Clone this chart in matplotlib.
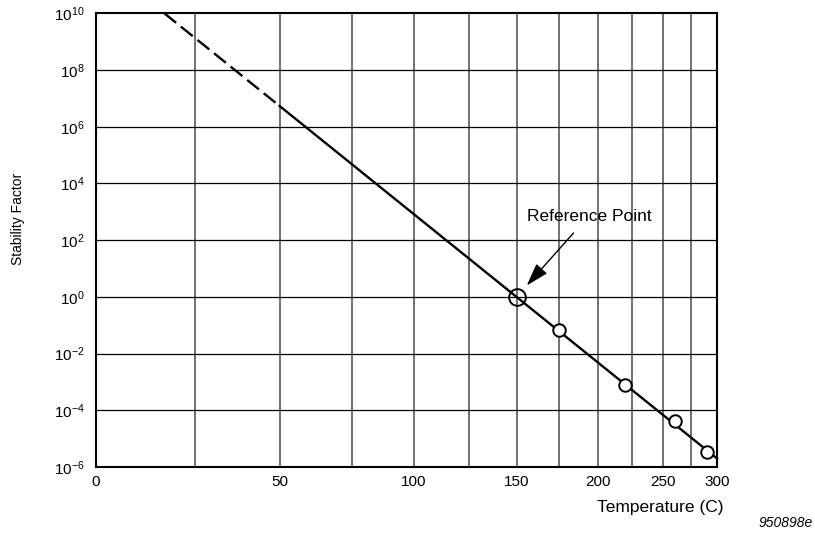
import numpy as np
import matplotlib
matplotlib.use("Agg")
import matplotlib.pyplot as plt

plt.rcParams['font.family'] = ['Liberation Sans', 'DejaVu Sans']
plt.rcParams['mathtext.fontset'] = 'custom'
plt.rcParams['mathtext.rm'] = 'Liberation Sans'
plt.rcParams['mathtext.it'] = 'Liberation Sans:italic'

# fitted line (Arrhenius), dashed below 50 C
dash_temp = [16.7, 50]
dash_val = [1e10, 5.4e6]
solid_temp = [50, 300]
solid_val = [5.4e6, 2.0e-6]

# measured points
ref_temp = [150]
ref_val = [1.0]
pt_temp = [175, 220, 260, 290]
pt_val = [7.0e-2, 7.5e-4, 4.2e-5, 3.4e-6]

xticks = [0, 50, 100, 150, 200, 250, 300]
xgrid = [25, 50, 75, 100, 125, 150, 175, 200, 225, 250, 275]
yticks = [1e-6, 1e-4, 1e-2, 1e0, 1e2, 1e4, 1e6, 1e8, 1e10]
ylabels = ['$10^{-6}$', '$10^{-4}$', '$10^{-2}$', '$10^{0}$', '$10^{2}$',
           '$10^{4}$', '$10^{6}$', '$10^{8}$', '$10^{10}$']


def fwd(t):
    with np.errstate(divide='ignore', invalid='ignore'):
        return -1.0 / (np.asarray(t, dtype=float) + 273.15)


def inv(u):
    with np.errstate(divide='ignore', invalid='ignore'):
        return -1.0 / np.asarray(u, dtype=float) - 273.15


fig = plt.figure(figsize=(8.15, 5.33), dpi=100)
ax = fig.add_axes([0.1178, 0.1238, 0.7620, 0.8512])
ax.set_xscale('function', functions=(fwd, inv))
ax.set_yscale('log')
ax.set_xlim(0, 300)
ax.set_ylim(1e-6, 1e10)

for t in xgrid:
    ax.axvline(t, color='#4a4a4a', lw=1.1, zorder=1)
for v in yticks[1:-1]:
    ax.axhline(v, color='black', lw=0.9, zorder=1)

ax.plot(dash_temp, dash_val, color='black', lw=1.7, ls=(0, (6.4, 2.6)),
        zorder=3, clip_on=False)
ax.plot(solid_temp, solid_val, color='black', lw=1.7, zorder=3, clip_on=False)
ax.plot(pt_temp, pt_val, 'o', ms=9, mfc='white', mec='black', mew=1.4,
        zorder=4, clip_on=False)
ax.plot(ref_temp, ref_val, 'o', ms=12, mfc='none', mec='black', mew=1.4,
        zorder=4)

ax.annotate('', xy=(150, 1.0), xytext=(41, 46), textcoords='offset points',
            arrowprops=dict(arrowstyle='-|>,head_length=0.7,head_width=0.22',
                            color='black', lw=1.0,
                            mutation_scale=20, shrinkA=0, shrinkB=11))
ax.annotate('Reference Point', xy=(150, 1.0), xytext=(52, 58),
            textcoords='offset points', ha='center', va='center',
            fontsize=12.5)

ax.set_xticks(xticks)
ax.set_xticklabels([str(t) for t in xticks])
ax.xaxis.set_minor_locator(matplotlib.ticker.NullLocator())
ax.set_yticks(yticks)
ax.set_yticklabels(ylabels)
ax.yaxis.set_minor_locator(matplotlib.ticker.NullLocator())
ax.tick_params(axis='x', length=0, pad=6, labelsize=11)
ax.tick_params(axis='y', length=0, pad=8, labelsize=11)

for s in ax.spines.values():
    s.set_linewidth(1.5)
    s.set_zorder(5)

ax.set_ylabel('Stability Factor', fontsize=10)
ax.yaxis.set_label_coords(-0.114, 0.546)
ax.set_xlabel('Temperature (C)', fontsize=12.5)
ax.xaxis.set_label_coords(0.908, -0.073)

fig.text(0.997, 0.019, '950898e', fontsize=10, style='italic', ha='right',
         va='center')

fig.savefig('out.png', dpi=100)
